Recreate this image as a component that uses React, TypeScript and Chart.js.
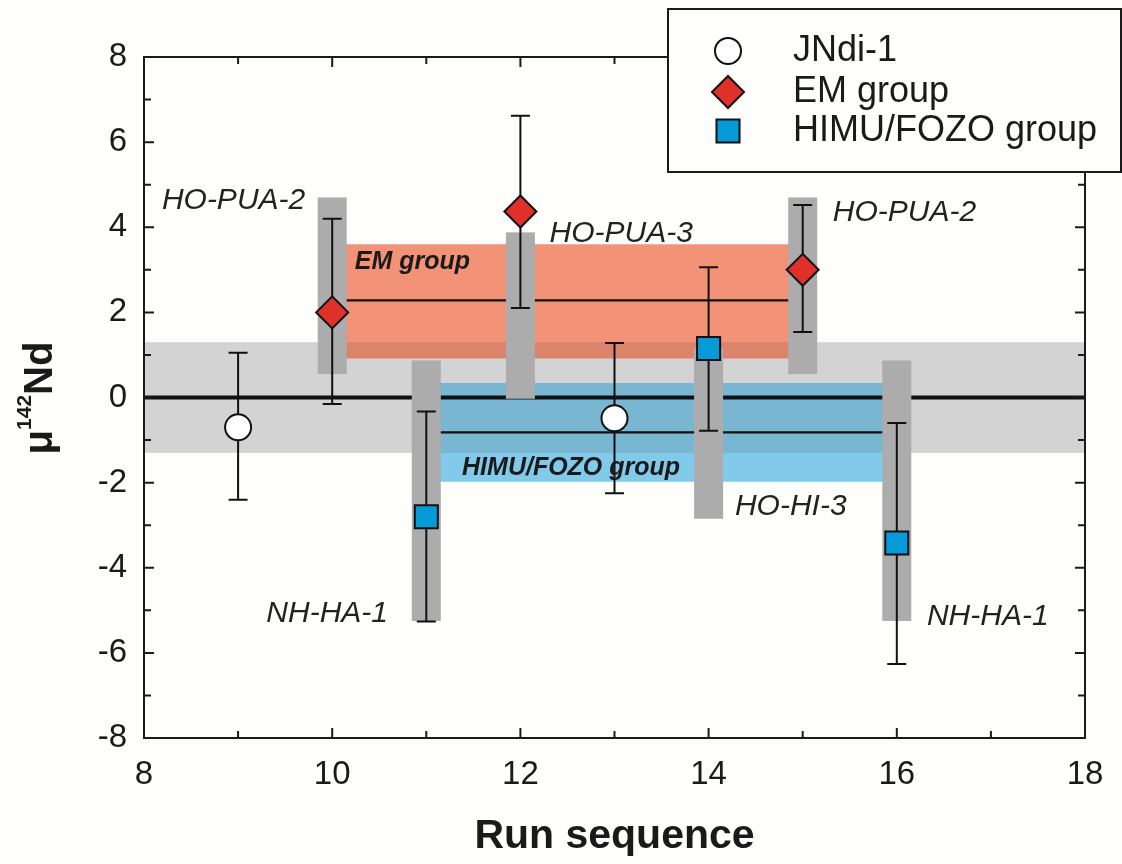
import React, { useEffect, useRef } from "react";
import { Chart, registerables } from "chart.js";

Chart.register(...registerables);

const FONT = "'Liberation Sans', Arial, Helvetica, sans-serif";

// ---------------- DATA ----------------
const seriesNames = ["JNdi-1", "EM group", "HIMU/FOZO group"];

const jndiRun = [9, 13];
const jndiMu = [-0.7, -0.49];
const jndiLow = [-2.4, -2.25];
const jndiHigh = [1.05, 1.28];

const emRun = [10, 12, 15];
const emMu = [2.0, 4.37, 3.0];
const emLow = [-0.15, 2.1, 1.54];
const emHigh = [4.2, 6.62, 4.52];

const himuRun = [11, 14, 16];
const himuMu = [-2.8, 1.15, -3.42];
const himuLow = [-5.26, -0.78, -6.26];
const himuHigh = [-0.33, 3.06, -0.6];

// sample reproducibility ranges (grey vertical bars)
const sampleRun = [10, 11, 12, 14, 15, 16];
const sampleNames = ["HO-PUA-2", "NH-HA-1", "HO-PUA-3", "HO-HI-3", "HO-PUA-2", "NH-HA-1"];
const sampleLow = [0.55, -5.25, -0.03, -2.85, 0.55, -5.25];
const sampleHigh = [4.7, 0.87, 3.88, 1.15, 4.7, 0.87];

// standard reproducibility band
const refBand = [-1.3, 1.3];
// group averages
const groupNames = ["EM group", "HIMU/FOZO group"];
const groupRunStart = [10, 11];
const groupRunEnd = [15, 16];
const groupBandLow = [0.92, -1.98];
const groupBandHigh = [3.6, 0.34];
const groupMean = [2.28, -0.82];

// axis ticks
const xTickValues = [8, 10, 12, 14, 16, 18];
const xMinorTicks = [9, 11, 13, 15, 17];
const yTickValues = [-8, -6, -4, -2, 0, 2, 4, 6, 8];
const yMinorTicks = [-7, -5, -3, -1, 1, 3, 5, 7];

// ---------------- LAYOUT / STYLE ----------------
const sampleLabelPos = [
  [8.19, 4.43],
  [9.3, -5.27],
  [12.31, 3.65],
  [14.28, -2.76],
  [15.32, 4.15],
  [16.32, -5.34],
];
const groupLabelPos = [
  [10.24, 3.02],
  [11.38, -1.82],
];
const groupColors = ["#f29276", "#82caea"];
const groupOverlapColors = ["#db836b", "#78b6d2"];
const markerFill = ["#ffffff", "#e0302a", "#069bd8"];
const markerStyle = ["circle", "rectRot", "rect"];
const markerRadius = [13, 16, 16.3];

function drawMarker(ctx: CanvasRenderingContext2D, style: string, x: number, y: number, r: number, fill: string) {
  ctx.beginPath();
  if (style === "circle") {
    ctx.arc(x, y, r, 0, Math.PI * 2);
  } else if (style === "rectRot") {
    ctx.moveTo(x - r, y);
    ctx.lineTo(x, y - r);
    ctx.lineTo(x + r, y);
    ctx.lineTo(x, y + r);
    ctx.closePath();
  } else {
    const s = Math.SQRT1_2 * r;
    ctx.rect(x - s, y - s, 2 * s, 2 * s);
  }
  ctx.fillStyle = fill;
  ctx.fill();
  ctx.lineWidth = 2;
  ctx.strokeStyle = "#111";
  ctx.stroke();
}

const decorPlugin = {
  id: "decor",
  beforeDraw(chart: any) {
    const ctx = chart.ctx;
    ctx.save();
    ctx.fillStyle = "#fefefc";
    ctx.fillRect(0, 0, chart.width, chart.height);
    ctx.restore();
  },
  beforeDatasetsDraw(chart: any) {
    const { ctx, chartArea: a, scales } = chart;
    const px = (v: number) => scales.x.getPixelForValue(v);
    const py = (v: number) => scales.y.getPixelForValue(v);
    ctx.save();
    // reference band
    ctx.fillStyle = "#d3d3d3";
    ctx.fillRect(a.left, py(refBand[1]), a.right - a.left, py(refBand[0]) - py(refBand[1]));
    // group bands
    for (let i = 0; i < groupNames.length; i++) {
      const x0 = px(groupRunStart[i]);
      const x1 = px(groupRunEnd[i]);
      const yt = py(groupBandHigh[i]);
      const yb = py(groupBandLow[i]);
      ctx.fillStyle = groupColors[i];
      ctx.fillRect(x0, yt, x1 - x0, yb - yt);
      const ot = Math.max(yt, py(refBand[1]));
      const ob = Math.min(yb, py(refBand[0]));
      if (ob > ot) {
        ctx.fillStyle = groupOverlapColors[i];
        ctx.fillRect(x0, ot, x1 - x0, ob - ot);
      }
    }
    // zero line
    ctx.strokeStyle = "#111";
    ctx.lineWidth = 4;
    ctx.beginPath();
    ctx.moveTo(a.left, py(0));
    ctx.lineTo(a.right, py(0));
    ctx.stroke();
    // mean lines
    ctx.lineWidth = 2.2;
    for (let i = 0; i < groupNames.length; i++) {
      ctx.beginPath();
      ctx.moveTo(px(groupRunStart[i]), py(groupMean[i]));
      ctx.lineTo(px(groupRunEnd[i]), py(groupMean[i]));
      ctx.stroke();
    }
    // grey sample bars
    ctx.fillStyle = "#acacac";
    for (let i = 0; i < sampleRun.length; i++) {
      const cx = px(sampleRun[i]);
      const yt = py(sampleHigh[i]);
      const yb = py(sampleLow[i]);
      ctx.fillRect(cx - 14.5, yt, 29, yb - yt);
    }
    // error bars
    const groups = [
      [jndiRun, jndiLow, jndiHigh],
      [emRun, emLow, emHigh],
      [himuRun, himuLow, himuHigh],
    ];
    ctx.strokeStyle = "#111";
    ctx.lineWidth = 2;
    for (const [xs, lo, hi] of groups) {
      for (let i = 0; i < xs.length; i++) {
        const cx = px(xs[i]);
        const y0 = py(lo[i]);
        const y1 = py(hi[i]);
        ctx.beginPath();
        ctx.moveTo(cx, y0);
        ctx.lineTo(cx, y1);
        ctx.moveTo(cx - 9.5, y0);
        ctx.lineTo(cx + 9.5, y0);
        ctx.moveTo(cx - 9.5, y1);
        ctx.lineTo(cx + 9.5, y1);
        ctx.stroke();
      }
    }
    ctx.restore();
  },
  afterDatasetsDraw(chart: any) {
    const { ctx, chartArea: a, scales } = chart;
    const px = (v: number) => scales.x.getPixelForValue(v);
    const py = (v: number) => scales.y.getPixelForValue(v);
    ctx.save();
    // sample labels
    ctx.textAlign = "left";
    ctx.textBaseline = "alphabetic";
    ctx.fillStyle = "#222";
    ctx.font = `italic 30px ${FONT}`;
    for (let i = 0; i < sampleNames.length; i++) {
      ctx.fillText(sampleNames[i], px(sampleLabelPos[i][0]), py(sampleLabelPos[i][1]));
    }
    ctx.fillStyle = "#1a1a1a";
    ctx.font = `italic bold 25px ${FONT}`;
    for (let i = 0; i < groupNames.length; i++) {
      ctx.fillText(groupNames[i], px(groupLabelPos[i][0]), py(groupLabelPos[i][1]));
    }
    // frame
    ctx.strokeStyle = "#1a1a1a";
    ctx.lineWidth = 2;
    ctx.strokeRect(a.left, a.top, a.right - a.left, a.bottom - a.top);
    ctx.beginPath();
    const xt = (v: number, len: number) => {
      const x = px(v);
      ctx.moveTo(x, a.bottom);
      ctx.lineTo(x, a.bottom - len);
      ctx.moveTo(x, a.top);
      ctx.lineTo(x, a.top + len);
    };
    const yt = (v: number, len: number) => {
      const y = py(v);
      ctx.moveTo(a.left, y);
      ctx.lineTo(a.left + len, y);
      ctx.moveTo(a.right, y);
      ctx.lineTo(a.right - len, y);
    };
    xTickValues.forEach((v) => xt(v, 10));
    xMinorTicks.forEach((v) => xt(v, 7));
    yTickValues.forEach((v) => yt(v, 10));
    yMinorTicks.forEach((v) => yt(v, 7));
    ctx.stroke();
    ctx.restore();
  },
  afterDraw(chart: any) {
    const ctx = chart.ctx;
    ctx.save();
    // legend
    ctx.fillStyle = "#fefefc";
    ctx.fillRect(668, 9, 453, 163);
    ctx.strokeStyle = "#1a1a1a";
    ctx.lineWidth = 2;
    ctx.strokeRect(668, 9, 453, 163);
    const rows = [51, 92, 131];
    for (let i = 0; i < seriesNames.length; i++) {
      drawMarker(ctx, markerStyle[i], 728, rows[i], markerRadius[i], markerFill[i]);
      ctx.fillStyle = "#1a1a1a";
      ctx.font = `36px ${FONT}`;
      ctx.textAlign = "left";
      ctx.textBaseline = "middle";
      ctx.fillText(seriesNames[i], 793, rows[i]);
    }
    // y axis title: μ^142 Nd
    ctx.fillStyle = "#1a1a1a";
    ctx.textAlign = "left";
    ctx.textBaseline = "alphabetic";
    const big = `bold 40px ${FONT}`;
    const small = `bold 21px ${FONT}`;
    ctx.font = big;
    const wMu = ctx.measureText("\u03bc").width;
    const wNd = ctx.measureText("Nd").width;
    ctx.font = small;
    const w142 = ctx.measureText("142").width;
    const total = wMu + w142 + wNd;
    ctx.translate(52, 398 + total / 2);
    ctx.rotate(-Math.PI / 2);
    ctx.font = big;
    ctx.fillText("\u03bc", 0, 0);
    ctx.font = small;
    ctx.fillText("142", wMu, -21);
    ctx.font = big;
    ctx.fillText("Nd", wMu + w142, 0);
    ctx.restore();
  },
};

export default function App() {
  const ref = useRef<HTMLCanvasElement | null>(null);
  useEffect(() => {
    if (!ref.current) return;
    const mk = (xs: number[], ys: number[]) => xs.map((x, i) => ({ x, y: ys[i] }));
    const chart = new Chart(ref.current, {
      type: "scatter",
      data: {
        datasets: [
          { label: seriesNames[0], data: mk(jndiRun, jndiMu) },
          { label: seriesNames[1], data: mk(emRun, emMu) },
          { label: seriesNames[2], data: mk(himuRun, himuMu) },
        ].map((d, i) => ({
          ...d,
          pointStyle: markerStyle[i] as any,
          pointRadius: markerRadius[i],
          pointHoverRadius: markerRadius[i],
          backgroundColor: markerFill[i],
          borderColor: "#111",
          borderWidth: 2,
          pointBorderWidth: 2,
          showLine: false,
        })),
      },
      options: {
        animation: false,
        responsive: false,
        events: [],
        layout: { padding: { top: 57, right: 37, left: 0, bottom: 0 } },
        plugins: { legend: { display: false }, tooltip: { enabled: false } },
        scales: {
          x: {
            type: "linear",
            min: 8,
            max: 18,
            afterBuildTicks: (s: any) => {
              s.ticks = xTickValues.map((v) => ({ value: v }));
            },
            afterFit: (s: any) => {
              s.height = 126;
            },
            grid: { display: false, drawTicks: false },
            border: { display: false },
            ticks: { font: { size: 33, family: FONT }, color: "#1a1a1a", padding: 17, maxRotation: 0, autoSkip: false },
            title: {
              display: true,
              text: "Run sequence",
              font: { size: 41, weight: "bold", family: FONT },
              color: "#1a1a1a",
              padding: { top: 0, bottom: 3 },
            },
          },
          y: {
            type: "linear",
            min: -8,
            max: 8,
            afterBuildTicks: (s: any) => {
              s.ticks = yTickValues.map((v) => ({ value: v }));
            },
            afterFit: (s: any) => {
              s.width = 144;
            },
            grid: { display: false, drawTicks: false },
            border: { display: false },
            ticks: { font: { size: 33, family: FONT }, color: "#1a1a1a", padding: 17, autoSkip: false },
          },
        },
      },
      plugins: [decorPlugin],
    });
    return () => chart.destroy();
  }, []);
  return (
    <div style={{ position: "absolute", left: 0, top: 0, width: 1122, height: 864 }}>
      <canvas ref={ref} width={1122} height={864} style={{ width: 1122, height: 864, display: "block" }} />
    </div>
  );
}
